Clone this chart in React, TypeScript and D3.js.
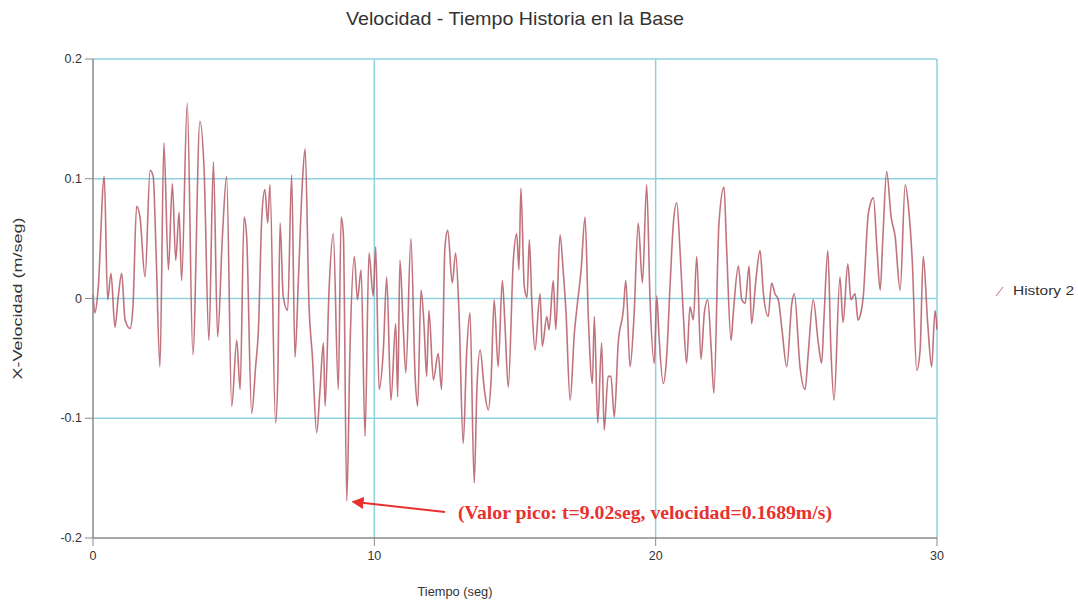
import React from "react";
import * as d3 from "d3";

const times = [0.00,0.07,0.18,0.40,0.52,0.64,0.78,0.90,1.02,1.14,1.32,1.42,1.55,1.67,1.85,2.03,2.14,2.24,2.38,2.52,2.68,2.82,2.94,3.06,3.15,3.35,3.55,3.80,3.95,4.12,4.28,4.43,4.60,4.75,4.93,5.11,5.23,5.37,5.46,5.64,5.78,5.88,6.00,6.11,6.21,6.29,6.49,6.57,6.65,6.76,6.92,7.06,7.18,7.30,7.44,7.54,7.68,7.80,7.95,8.07,8.19,8.25,8.39,8.54,8.72,8.82,8.90,9.02,9.14,9.29,9.40,9.53,9.67,9.81,9.96,10.05,10.17,10.32,10.44,10.59,10.76,10.83,10.91,11.02,11.12,11.30,11.45,11.54,11.66,11.77,11.86,11.94,12.10,12.27,12.39,12.51,12.61,12.77,12.89,13.01,13.16,13.28,13.40,13.55,13.65,13.76,13.91,14.05,14.15,14.26,14.40,14.55,14.64,14.76,14.94,15.06,15.14,15.21,15.33,15.43,15.51,15.60,15.71,15.89,15.97,16.13,16.21,16.36,16.45,16.60,16.72,16.81,16.96,17.11,17.19,17.35,17.49,17.61,17.75,17.82,17.94,18.08,18.17,18.31,18.41,18.53,18.67,18.85,18.94,19.09,19.23,19.38,19.53,19.68,19.80,19.95,20.04,20.12,20.27,20.39,20.51,20.63,20.75,20.86,20.98,21.10,21.22,21.34,21.46,21.61,21.73,21.85,21.97,22.07,22.25,22.43,22.52,22.68,22.76,22.94,23.06,23.18,23.32,23.41,23.56,23.71,23.83,24.00,24.12,24.24,24.36,24.49,24.66,24.84,24.93,25.13,25.31,25.42,25.60,25.78,25.90,25.98,26.12,26.23,26.34,26.55,26.66,26.83,26.94,27.09,27.19,27.26,27.38,27.56,27.74,27.87,27.98,28.08,28.21,28.37,28.51,28.69,28.87,28.98,29.12,29.28,29.40,29.51,29.67,29.81,29.93,30.00];

const velocity = [0.003,-0.012,0.007,0.102,-0.001,0.021,-0.024,0.002,0.021,-0.018,-0.025,-0.007,0.077,0.068,0.018,0.107,0.102,0.040,-0.057,0.130,0.024,0.096,0.032,0.072,0.015,0.163,-0.047,0.148,0.107,-0.035,0.114,-0.032,0.052,0.102,-0.090,-0.035,-0.076,0.068,0.052,-0.096,-0.057,-0.026,0.068,0.091,0.063,0.095,-0.104,-0.065,0.063,0.002,-0.010,0.103,-0.049,0.015,0.096,0.125,-0.007,-0.049,-0.112,-0.076,-0.037,-0.090,0.007,0.054,-0.076,0.068,0.053,-0.1689,-0.037,0.035,-0.001,0.024,-0.115,0.038,0.002,0.043,-0.076,-0.043,0.018,-0.085,-0.021,-0.082,0.032,-0.020,-0.062,0.050,-0.065,-0.090,0.007,-0.024,-0.065,-0.010,-0.068,-0.046,-0.076,0.043,0.057,0.013,0.038,-0.012,-0.121,-0.046,-0.012,-0.154,-0.073,-0.043,-0.076,-0.093,-0.068,-0.001,-0.057,0.015,-0.020,-0.074,0.032,0.054,0.024,0.092,0.010,0.001,0.049,-0.004,-0.043,0.004,-0.040,-0.015,-0.026,0.015,-0.026,0.053,0.021,-0.010,-0.085,-0.029,-0.010,0.024,0.068,-0.018,-0.071,-0.015,-0.104,-0.037,-0.110,-0.065,-0.065,-0.099,-0.037,-0.010,0.015,-0.057,-0.015,0.063,0.013,0.095,-0.001,-0.054,0.002,-0.032,-0.071,-0.049,0.010,0.063,0.080,0.043,-0.012,-0.054,-0.007,-0.018,0.035,-0.051,-0.012,-0.001,-0.040,-0.079,0.063,0.093,0.043,-0.035,-0.012,0.027,-0.001,-0.004,0.027,-0.021,0.015,0.040,0.004,-0.015,0.013,0.004,-0.001,-0.026,-0.057,-0.004,0.004,-0.057,-0.076,-0.047,-0.001,-0.037,-0.054,-0.018,0.040,-0.043,-0.085,0.018,-0.020,0.029,-0.001,0.004,-0.018,-0.015,0.002,0.071,0.084,0.040,0.007,0.053,0.106,0.068,0.052,0.007,0.095,0.078,0.032,-0.060,-0.043,0.035,-0.021,-0.057,-0.010,-0.026];

const xTicks = [0, 10, 20, 30];
const yTicks = [0.2, 0.1, 0, -0.1, -0.2];
const yTickLabels = ["0.2", "0.1", "0", "-0.1", "-0.2"];
const peakTime = 9.02;
const peakValue = -0.1689;

const W = 1078, H = 606;
const left = 93, right = 937, top = 59, bottom = 538;
const grid = "#8ed2de";
const axisCol = "#8a8a8a";
const txt = "#333";
const font = "'Liberation Sans', Arial, sans-serif";

export default function App() {
  const x = d3.scaleLinear().domain([0, 30]).range([left, right]);
  const y = d3.scaleLinear().domain([-0.2, 0.2]).range([bottom, top]);
  const pts: [number, number][] = times.map((t, i) => [t, velocity[i]]);
  const line = d3.line<[number, number]>().x(d => x(d[0])).y(d => y(d[1])).curve(d3.curveMonotoneX);
  const px = x(peakTime), py = y(peakValue);

  return (
    <svg width={W} height={H} style={{ position: "absolute", left: 0, top: 0, background: "#fff" }} fontFamily={font}>
      <text x={515} y={25} textAnchor="middle" fontSize={19} fill={txt} textLength={338} lengthAdjust="spacingAndGlyphs">Velocidad - Tiempo Historia en la Base</text>
      {/* grid */}
      {xTicks.filter(t => t > 0).map(t => (
        <line key={"gx" + t} x1={x(t)} x2={x(t)} y1={top} y2={bottom} stroke={grid} strokeWidth={1.5} />
      ))}
      {yTicks.filter(v => v > -0.2).map(v => (
        <line key={"gy" + v} x1={left} x2={right} y1={y(v)} y2={y(v)} stroke={grid} strokeWidth={1.5} />
      ))}
      {/* data */}
      <path d={line(pts) || ""} fill="none" stroke="#b2505d" strokeWidth={1.6} strokeOpacity={0.8} strokeLinejoin="round" />
      {/* axes */}
      <line x1={left} x2={left} y1={top} y2={bottom} stroke={axisCol} strokeWidth={1.5} />
      <line x1={left} x2={right} y1={bottom} y2={bottom} stroke={axisCol} strokeWidth={1.5} />
      {yTicks.map((v, i) => (
        <g key={"yt" + v}>
          <line x1={left - 8} x2={left} y1={y(v)} y2={y(v)} stroke={axisCol} />
          <text x={left - 11} y={y(v) + 4} textAnchor="end" fontSize={12.5} fill={txt}>{yTickLabels[i]}</text>
        </g>
      ))}
      {xTicks.map(t => (
        <g key={"xt" + t}>
          <line x1={x(t)} x2={x(t)} y1={bottom} y2={bottom + 8} stroke={axisCol} />
          <text x={x(t)} y={bottom + 22} textAnchor="middle" fontSize={12.5} fill={txt}>{t}</text>
        </g>
      ))}
      <text x={455} y={596} textAnchor="middle" fontSize={12.5} fill={txt} textLength={75} lengthAdjust="spacingAndGlyphs">Tiempo (seg)</text>
      <text transform={`translate(22,${(top + bottom) / 2}) rotate(-90)`} textAnchor="middle" fontSize={13} fill={txt} textLength={162} lengthAdjust="spacingAndGlyphs">X-Velocidad (m/seg)</text>
      {/* legend */}
      <line x1={996} x2={1003} y1={296} y2={287} stroke="#c98a92" strokeWidth={1.2} />
      <text x={1013} y={295} fontSize={13} fill={txt} textLength={61} lengthAdjust="spacingAndGlyphs">History 2</text>
      {/* annotation */}
      <defs>
        <marker id="ah" viewBox="0 0 10 10" refX={9} refY={5} markerWidth={6} markerHeight={6} orient="auto">
          <path d="M0,0 L10,5 L0,10 z" fill="#e8312f" />
        </marker>
      </defs>
      <line x1={445} y1={512} x2={px + 6} y2={py + 1} stroke="#e8312f" strokeWidth={2} markerEnd="url(#ah)" />
      <text x={458} y={519} fontSize={19} fontWeight="bold" fontFamily="'Liberation Serif', 'Times New Roman', serif" fill="#e8312f" textLength={374} lengthAdjust="spacingAndGlyphs">(Valor pico: t=9.02seg, velocidad=0.1689m/s)</text>
    </svg>
  );
}
